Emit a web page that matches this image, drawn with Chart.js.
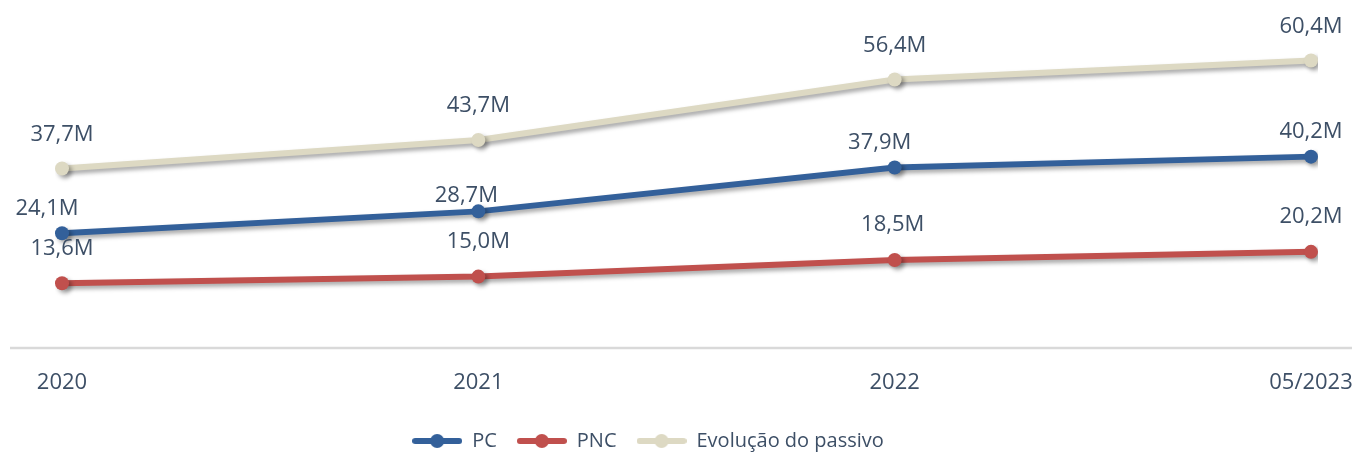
<!DOCTYPE html>
<html>
<head>
<meta charset="utf-8">
<script src="https://cdn.jsdelivr.net/npm/chart.js@4"></script>
<style>
  html, body { margin: 0; padding: 0; background: #fff; }
  #wrap { width: 1356px; height: 452px; }
</style>
</head>
<body>
<div id="wrap"><canvas id="chart" width="1356" height="452"></canvas></div>
<script>
// data (millions)
const labels = ["2020", "2021", "2022", "05/2023"];
const pc = [24.1, 28.7, 37.9, 40.2];
const pnc = [13.6, 15.0, 18.5, 20.2];
const evolucao = [37.7, 43.7, 56.4, 60.4];

const textColor = "#3d4f66";
const font = "'Open Sans', sans-serif";

// legend swatch: thick line with a dot in the middle
function swatch(color) {
    const c = document.createElement("canvas");
    c.width = 50;
    c.height = 16;
    const g = c.getContext("2d");
    g.strokeStyle = color;
    g.lineWidth = 6;
    g.lineCap = "round";
    g.beginPath();
    g.moveTo(3, 8);
    g.lineTo(47, 8);
    g.stroke();
    g.fillStyle = color;
    g.beginPath();
    g.arc(25, 8, 7, 0, Math.PI * 2);
    g.fill();
    return c;
}

// drop shadow under the lines
const shadow = {
    id: "shadow",
    beforeDatasetsDraw(chart) {
        const ctx = chart.ctx;
        ctx.save();
        ctx.shadowColor = "rgba(0,0,0,0.35)";
        ctx.shadowBlur = 4;
        ctx.shadowOffsetX = 3;
        ctx.shadowOffsetY = 3;
    },
    afterDatasetsDraw(chart) {
        chart.ctx.restore();
    }
};

// gray base line at zero, wider than the plot area
const baseline = {
    id: "baseline",
    beforeDatasetsDraw(chart) {
        const ctx = chart.ctx;
        const y = chart.scales.y.getPixelForValue(0);
        ctx.save();
        ctx.strokeStyle = "#d9d9d9";
        ctx.lineWidth = 2.5;
        ctx.beginPath();
        ctx.moveTo(10, y);
        ctx.lineTo(chart.width - 4, y);
        ctx.stroke();
        ctx.restore();
    }
};

// nudge the legend: a bit left and down, like the original
const legendShift = {
    id: "legendShift",
    afterLayout(chart) {
        const lg = chart.legend;
        lg.left -= 30;
        lg.right -= 30;
        lg.top += 9;
        lg.bottom += 9;
    }
};

// value labels above the points
const valueLabels = {
    id: "valueLabels",
    afterDatasetsDraw(chart) {
        const ctx = chart.ctx;
        ctx.save();
        ctx.font = "22px " + font;
        ctx.fillStyle = textColor;
        ctx.textAlign = "center";
        ctx.textBaseline = "middle";
        chart.data.datasets.forEach((ds, i) => {
            chart.getDatasetMeta(i).data.forEach((pt, j) => {
                const dx = (ds.labelDx && ds.labelDx[j]) || 0;
                const dy = (ds.labelDy && ds.labelDy[j]) || ds.labelOffset;
                const txt = ds.data[j].toFixed(1).replace(".", ",") + "M";
                ctx.fillText(txt, pt.x + dx, pt.y - dy);
            });
        });
        ctx.restore();
    }
};

new Chart(document.getElementById("chart"), {
    type: "line",
    data: {
        labels: labels,
        datasets: [
            {
                label: "PC",
                data: pc,
                borderColor: "#33609a",
                backgroundColor: "#33609a",
                labelOffset: 25,
                labelDx: [-15, -12, -15, 0],
                labelDy: [0, 16, 0, 0],
                legendImg: swatch("#33609a")
            },
            {
                label: "PNC",
                data: pnc,
                borderColor: "#c0504d",
                backgroundColor: "#c0504d",
                labelOffset: 35,
                labelDx: [0, 0, -2, 0],
                legendImg: swatch("#c0504d")
            },
            {
                label: "Evolução do passivo",
                data: evolucao,
                borderColor: "#ddd9c3",
                backgroundColor: "#ddd9c3",
                labelOffset: 34,
                legendImg: swatch("#ddd9c3")
            }
        ]
    },
    options: {
        responsive: false,
        animation: false,
        layout: {
            padding: {top: 10, right: 0, bottom: 0, left: 0}
        },
        elements: {
            line: {borderWidth: 6, tension: 0},
            point: {radius: 7, borderWidth: 0, hoverRadius: 7}
        },
        scales: {
            x: {
                afterFit: (scale) => {
                    scale.paddingLeft = 62;
                    scale.paddingRight = 45;
                    scale.height = 54;
                },
                grid: {display: false, drawTicks: false},
                border: {display: false},
                ticks: {
                    color: textColor,
                    font: {family: font, size: 22},
                    padding: 22,
                    maxRotation: 0
                }
            },
            y: {
                display: false,
                min: 0,
                max: 71
            }
        },
        plugins: {
            tooltip: {enabled: false},
            legend: {
                position: "bottom",
                labels: {
                    color: textColor,
                    font: {family: font, size: 20},
                    usePointStyle: true,
                    pointStyleWidth: 50,
                    padding: 20,
                    generateLabels: (chart) => chart.data.datasets.map((ds, i) => ({
                        text: ds.label,
                        pointStyle: ds.legendImg,
                        fillStyle: ds.borderColor,
                        strokeStyle: ds.borderColor,
                        fontColor: textColor,
                        lineWidth: 0,
                        hidden: false,
                        datasetIndex: i
                    }))
                }
            }
        }
    },
    plugins: [baseline, shadow, valueLabels, legendShift]
});
</script>
</body>
</html>
